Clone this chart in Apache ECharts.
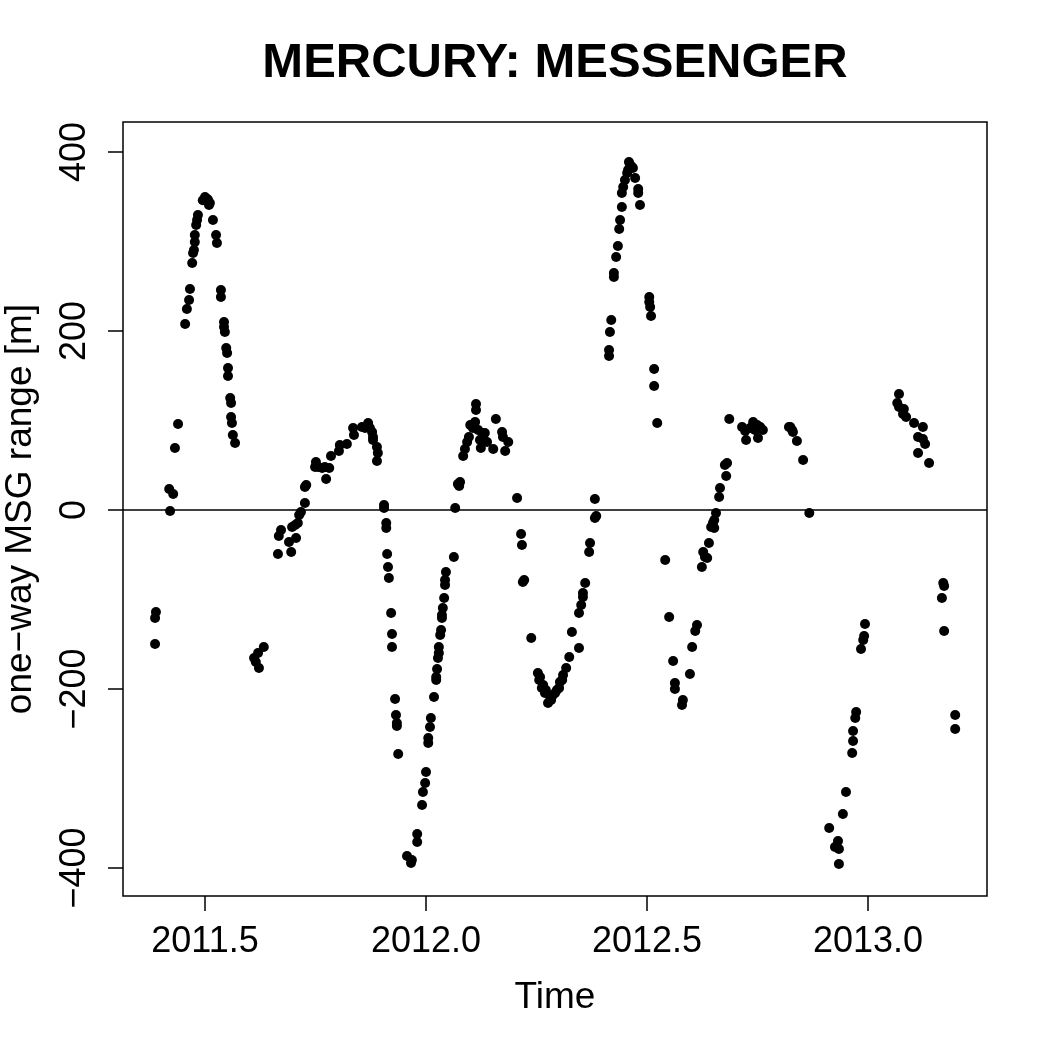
<!DOCTYPE html>
<html>
<head>
<meta charset="utf-8">
<script src="https://cdn.jsdelivr.net/npm/echarts@6/dist/echarts.min.js"></script>
<style>
html,body{margin:0;padding:0;background:#fff;}
#chart{width:1050px;height:1050px;}
</style>
</head>
<body>
<div id="chart"></div>
<script>
var titleText = "MERCURY: MESSENGER";
var xName = "Time";
var yName = "one\u2212way MSG range [m]";
var xTicks = [2011.5, 2012.0, 2012.5, 2013.0];
var yTicks = [-400, -200, 0, 200, 400];
var xRange = [2011.3145, 2013.269];
var yRange = [-431.3, 433.5];

var timeVals = [
2011.387,2011.389,2011.387,2011.421,2011.419,2011.428,2011.432,2011.439,
2011.455,2011.459,2011.464,2011.466,2011.471,2011.473,2011.475,2011.477,2011.477,2011.480,2011.482,2011.484,
2011.495,2011.500,2011.505,2011.507,2011.511,2011.509,2011.518,2011.525,2011.527,2011.536,2011.536,
2011.543,2011.543,2011.545,2011.548,2011.550,2011.552,2011.552,2011.557,2011.559,2011.559,2011.561,2011.563,2011.568,
2011.611,2011.615,2011.620,2011.622,2011.633,
2011.665,2011.667,2011.672,2011.690,2011.695,2011.697,2011.704,2011.706,2011.710,2011.713,2011.717,2011.726,2011.726,2011.729,
2011.751,2011.749,2011.756,2011.765,2011.771,2011.774,2011.781,2011.785,2011.803,2011.805,2011.821,2011.835,2011.837,
2011.855,2011.862,2011.869,2011.873,2011.878,2011.880,2011.880,2011.889,2011.891,2011.889,
2011.905,2011.905,2011.910,2011.910,2011.912,2011.914,2011.916,2011.921,2011.923,2011.923,2011.930,2011.932,2011.934,2011.934,2011.937,
2011.957,2011.966,2011.968,2011.980,2011.980,2011.991,2011.993,2011.998,2012.000,2012.005,2012.005,2012.009,2012.011,
2012.018,2012.023,2012.023,2012.025,2012.027,2012.029,2012.029,2012.032,2012.034,2012.036,2012.036,2012.038,2012.041,2012.043,2012.043,2012.045,
2012.063,2012.066,2012.072,2012.075,2012.077,
2012.084,2012.088,2012.093,2012.097,2012.100,2012.106,2012.111,2012.113,2012.113,2012.118,2012.122,2012.124,2012.127,2012.129,2012.133,2012.138,
2012.152,2012.158,2012.172,2012.174,2012.179,2012.186,
2012.206,2012.215,2012.217,2012.219,2012.222,2012.238,2012.253,2012.256,2012.258,2012.262,2012.265,2012.269,2012.271,2012.276,2012.281,2012.283,
2012.287,2012.292,2012.296,2012.301,2012.303,2012.308,2012.310,2012.317,2012.324,2012.330,2012.346,2012.346,2012.351,2012.355,2012.355,2012.360,
2012.369,2012.371,2012.382,2012.385,2012.382,
2012.414,2012.414,2012.416,2012.419,2012.425,2012.425,2012.430,2012.434,2012.437,2012.439,2012.443,2012.443,2012.446,2012.450,2012.455,2012.457,
2012.459,2012.462,2012.466,2012.468,2012.473,2012.480,2012.480,2012.484,2012.505,2012.505,2012.507,2012.509,2012.516,2012.516,2012.523,
2012.541,2012.550,2012.559,2012.563,2012.563,2012.579,2012.581,2012.597,2012.602,2012.609,2012.613,
2012.624,2012.627,2012.631,2012.636,2012.640,2012.645,2012.649,2012.652,2012.652,2012.656,2012.663,2012.665,2012.679,2012.676,2012.681,2012.686,
2012.715,2012.722,2012.724,2012.733,2012.740,2012.744,2012.749,2012.751,2012.756,2012.762,
2012.821,2012.824,2012.828,2012.830,2012.839,2012.853,2012.867,
2012.912,2012.925,2012.932,2012.934,2012.934,2012.943,2012.950,2012.964,2012.966,2012.966,2012.971,2012.973,2012.984,2012.989,2012.991,2012.993,
2013.066,2013.070,2013.070,2013.079,2013.081,2013.086,2013.104,2013.113,2013.113,2013.124,2013.124,2013.129,2013.138,
2013.167,2013.170,2013.172,2013.172,2013.197,2013.197
];

var rangeVals = [
-120.7,-114.0,-149.7,-1.1,23.5,17.9,69.3,96.1,
207.8,224.6,234.6,246.9,276.0,287.2,290.5,299.4,307.3,318.4,324.0,329.6,
346.0,349.7,347.5,346.4,343.0,340.8,324.0,307.3,298.3,245.8,238.0,
210.0,204.5,198.9,181.0,175.4,158.7,149.7,125.1,119.6,103.9,97.2,83.8,74.9,
-165.4,-169.8,-159.8,-176.5,-153.1,
-49.2,-29.1,-22.3,-35.8,-46.9,-19.0,-16.8,-31.3,-14.5,-5.6,-2.2,7.8,25.7,27.9,
53.6,48.0,48.0,46.9,48.0,34.6,46.9,60.3,65.9,72.6,73.7,91.6,83.8,
92.7,91.6,97.2,91.6,87.2,81.6,78.2,70.4,63.7,54.7,
5.6,2.2,-14.5,-20.1,-49.2,-63.7,-76.0,-115.1,-138.5,-153.1,-211.2,-229.1,-238.0,-241.3,-272.6,
-386.6,-394.4,-391.1,-370.9,-362.0,-329.6,-315.1,-305.0,-292.7,-260.3,-254.7,-242.5,-232.4,
-208.9,-189.9,-186.6,-177.7,-165.4,-159.8,-153.1,-139.7,-134.1,-120.7,-117.3,-109.5,-98.3,-83.8,-78.2,-69.3,
-52.5,2.2,29.1,26.8,31.3,
60.3,68.2,76.0,81.6,95.0,91.6,98.3,111.7,118.4,89.4,78.2,69.3,86.0,80.4,86.0,76.0,
68.2,101.7,87.2,81.6,65.9,76.0,
13.4,-26.8,-39.1,-80.4,-78.2,-143.0,-182.1,-189.9,-186.6,-198.9,-195.5,-204.5,-201.1,-215.6,-208.9,-212.3,
-206.7,-204.5,-201.1,-198.9,-192.2,-189.9,-184.4,-176.5,-164.2,-136.3,-154.2,-115.1,-106.1,-97.2,-92.7,-81.6,
-46.9,-36.9,-8.9,-6.7,12.3,
178.8,172.1,198.9,212.3,264.8,260.3,282.7,295.0,314.0,324.0,338.5,354.2,360.9,368.7,376.5,379.9,
388.8,385.5,383.2,382.1,370.9,358.7,354.2,340.8,238.0,232.4,226.8,216.8,157.5,138.5,97.2,
-55.9,-119.6,-168.7,-193.3,-200.0,-217.9,-212.3,-183.2,-153.1,-135.2,-128.5,
-63.7,-46.9,-52.5,-53.6,-36.9,-19.0,-14.5,-20.1,-11.2,-3.4,14.5,24.6,38.0,50.3,52.5,101.7,
92.7,88.3,78.2,91.6,98.3,89.4,95.0,80.4,92.7,89.4,
92.7,92.7,89.4,87.2,77.1,55.9,-3.4,
-355.3,-376.5,-369.8,-378.8,-395.5,-339.7,-315.1,-271.5,-258.1,-246.9,-232.4,-225.7,-155.3,-145.3,-140.8,-127.4,
119.6,129.6,115.1,107.3,112.8,103.9,97.2,81.6,63.7,92.7,79.3,73.7,52.5,
-98.3,-81.6,-84.9,-135.2,-229.1,-244.7
];

var points = timeVals.map(function (t, i) { return [t, rangeVals[i]]; });

var FONT = "'Liberation Sans', Arial, Helvetica, sans-serif";
var chart = echarts.init(document.getElementById('chart'), null, {renderer: 'canvas'});
chart.setOption({
  animation: false,
  backgroundColor: '#ffffff',
  graphic: [{
    type: 'text',
    x: 555, y: 63,
    style: {
      text: titleText,
      font: "bold 49px 'Liberation Sans', Arial, sans-serif",
      fill: '#000',
      textAlign: 'center',
      textVerticalAlign: 'middle'
    }
  }],
  grid: {
    left: 123, right: 63, top: 122, bottom: 154,
    outerBoundsMode: 'none',
    containLabel: false,
    show: true, borderColor: '#000', borderWidth: 1.5, backgroundColor: 'transparent'
  },
  xAxis: {
    type: 'value',
    min: xRange[0], max: xRange[1],
    name: xName,
    nameLocation: 'middle',
    nameGap: 83,
    nameTextStyle: {fontFamily: FONT, fontSize: 37, color: '#000'},
    axisLine: {show: false, onZero: false},
    axisTick: {show: true, inside: false, length: 15, customValues: xTicks, lineStyle: {color: '#000', width: 1.5}},
    axisLabel: {show: true, customValues: xTicks, margin: 28, fontFamily: FONT, fontSize: 36, color: '#000',
      formatter: function (v) { return v.toFixed(1); }},
    splitLine: {show: false}
  },
  yAxis: {
    type: 'value',
    min: yRange[0], max: yRange[1],
    name: yName,
    nameLocation: 'middle',
    nameGap: 84,
    nameRotate: 90,
    nameTextStyle: {fontFamily: FONT, fontSize: 37, color: '#000'},
    axisLine: {show: false, onZero: false},
    axisTick: {show: true, inside: false, length: 15, customValues: yTicks, lineStyle: {color: '#000', width: 1.5}},
    axisLabel: {show: true, customValues: yTicks, rotate: 90, margin: 30, fontFamily: FONT, fontSize: 36, color: '#000',
      formatter: function (v) { return String(v).replace('-', '\u2212'); }},
    splitLine: {show: false}
  },
  series: [{
    type: 'scatter',
    data: points,
    symbol: 'circle',
    symbolSize: 10,
    itemStyle: {color: '#000', opacity: 1},
    silent: true,
    markLine: {
      silent: true,
      symbol: ['none', 'none'],
      label: {show: false},
      lineStyle: {color: '#000', width: 1.5, type: 'solid'},
      data: [{yAxis: 0}]
    }
  }]
});
</script>
</body>
</html>
